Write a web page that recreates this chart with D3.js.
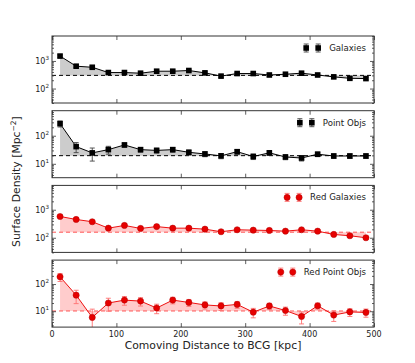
<!DOCTYPE html>
<html>
<head>
<meta charset="utf-8">
<script src="https://cdn.jsdelivr.net/npm/d3@7"></script>
<style>
  body { margin: 0; background: #fff; }
  text { font-family: "DejaVu Sans", sans-serif; fill: #222; }
</style>
</head>
<body>
<div id="chart-area"></div>
<script>
// radial bins, kpc
const binCenters = [12.5, 37.5, 62.5, 87.5, 112.5, 137.5, 162.5, 187.5, 212.5, 237.5,
  262.5, 287.5, 312.5, 337.5, 362.5, 387.5, 412.5, 437.5, 462.5, 487.5]

const galaxies = [1500, 645, 590, 380, 380, 360, 425, 425, 450, 370,
  282, 350, 350, 310, 330, 360, 310, 265, 235, 230]
const galaxiesErr = [150, 60, 55, 40, 40, 38, 40, 40, 42, 36,
  30, 34, 34, 31, 32, 34, 30, 27, 25, 25]
const galaxiesBg = 300

const pointObjs = [270, 41, 24.5, 32, 47, 32, 30, 32, 25.7, 22.4,
  19.2, 27, 18.2, 24.6, 17.5, 16.1, 22, 19, 19, 19]
const pointObjsErr = [65, 16, 12, 10, 8, 6, 6, 6, 5, 4.5,
  4, 5, 4, 4.5, 3.5, 3.5, 4, 3.5, 3.5, 3.5]
const pointObjsBg = 19.5

const redGalaxies = [575, 450, 373, 220, 275, 215, 250, 220, 220, 203,
  164, 193, 187, 182, 172, 193, 172, 131, 118, 100]
const redGalaxiesErr = [60, 45, 38, 25, 28, 24, 26, 24, 24, 22,
  19, 21, 21, 20, 19, 21, 19, 16, 15, 13]
const redGalaxiesBg = 158

const redPointObjs = [184, 39, 5.9, 20, 25.6, 23.5, 13.1, 25.6, 21, 17,
  15.6, 17.8, 9.2, 15.6, 10.6, 6.4, 15.9, 7.2, 9.4, 9.0]
const redPointObjsErr = [60, 20, 6, 10, 9, 8, 5, 7, 6, 5,
  5, 5, 3.5, 4, 3.5, 3, 4, 3, 3, 3]
const redPointObjsBg = 10.2

const xTicks = [0, 100, 200, 300, 400, 500]

const panels = [
  {label: "Galaxies", values: galaxies, err: galaxiesErr, bg: galaxiesBg, domain: [30, 8000], red: false},
  {label: "Point Objs", values: pointObjs, err: pointObjsErr, bg: pointObjsBg, domain: [3.2, 780], red: false},
  {label: "Red Galaxies", values: redGalaxies, err: redGalaxiesErr, bg: redGalaxiesBg, domain: [30, 7400], red: true},
  {label: "Red Point Objs", values: redPointObjs, err: redPointObjsErr, bg: redPointObjsBg, domain: [2.6, 760], red: true}
]

const LEFT = 52, RIGHT = 374, TOP = 36, PANEL_H = 67, GAP = 7.7
const FRAME = "#333"

const svg = d3.select("#chart-area").append("svg")
  .attr("width", 415)
  .attr("height", 363)

const x = d3.scaleLinear().domain([0, 500]).range([LEFT, RIGHT])

function drawMarker(sel, cx, cy, red) {
  if (red) {
    sel.append("circle").attr("cx", cx).attr("cy", cy).attr("r", 3.1)
      .attr("fill", "#e60000").attr("stroke", "#b30000").attr("stroke-width", 0.5)
  } else {
    sel.append("rect").attr("x", cx - 2.8).attr("y", cy - 2.8)
      .attr("width", 5.6).attr("height", 5.6).attr("fill", "#000")
  }
}

function drawErr(sel, cx, yTop, yBot, col) {
  sel.append("line").attr("x1", cx).attr("x2", cx).attr("y1", yTop).attr("y2", yBot)
    .attr("stroke", col).attr("stroke-width", 0.9)
  sel.append("line").attr("x1", cx - 2.5).attr("x2", cx + 2.5).attr("y1", yTop).attr("y2", yTop)
    .attr("stroke", col).attr("stroke-width", 0.9)
  sel.append("line").attr("x1", cx - 2.5).attr("x2", cx + 2.5).attr("y1", yBot).attr("y2", yBot)
    .attr("stroke", col).attr("stroke-width", 0.9)
}

panels.forEach((p, i) => {
  const top = TOP + i * (PANEL_H + GAP)
  const bottom = top + PANEL_H
  const y = d3.scaleLog().domain(p.domain).range([bottom, top])
  const lineCol = p.red ? "#ee1111" : "#000"
  const errCol = p.red ? "#ff7070" : "#444"
  const fillCol = p.red ? "#ffcccc" : "#cccccc"
  const dashCol = p.red ? "#ff5555" : "#000"

  svg.append("clipPath").attr("id", "clip" + i)
    .append("rect").attr("x", LEFT).attr("y", top).attr("width", RIGHT - LEFT).attr("height", PANEL_H)

  const plot = svg.append("g").attr("clip-path", `url(#clip${i})`)

  // shaded excess over background
  plot.append("path")
    .datum(p.values)
    .attr("d", d3.area()
      .x((d, j) => x(binCenters[j]))
      .y0(y(p.bg))
      .y1(d => y(d)))
    .attr("fill", fillCol)

  plot.append("line")
    .attr("x1", LEFT).attr("x2", RIGHT)
    .attr("y1", y(p.bg)).attr("y2", y(p.bg))
    .attr("stroke", dashCol).attr("stroke-width", 1)
    .attr("stroke-dasharray", "4,3")

  plot.append("path")
    .datum(p.values)
    .attr("d", d3.line().x((d, j) => x(binCenters[j])).y(d => y(d)))
    .attr("fill", "none").attr("stroke", lineCol).attr("stroke-width", 1)

  p.values.forEach((v, j) => {
    const lo = Math.max(v - p.err[j], p.domain[0] * 0.5)
    drawErr(plot, x(binCenters[j]), y(v + p.err[j]), y(lo), errCol)
  })
  p.values.forEach((v, j) => drawMarker(plot, x(binCenters[j]), y(v), p.red))

  // ticks, all inward
  const lo = Math.floor(Math.log10(p.domain[0])), hi = Math.ceil(Math.log10(p.domain[1]))
  const major = [], minor = []
  for (let k = lo; k <= hi; k++) {
    if (Math.pow(10, k) >= p.domain[0] && Math.pow(10, k) <= p.domain[1]) major.push(Math.pow(10, k))
    for (let m = 2; m < 10; m++) {
      const v = m * Math.pow(10, k)
      if (v >= p.domain[0] && v <= p.domain[1]) minor.push(v)
    }
  }
  const axG = svg.append("g")
  const addAxis = (call) => {
    const a = axG.append("g").call(call)
    a.select(".domain").remove()
    a.selectAll("line").attr("stroke", FRAME).attr("stroke-width", 0.8)
  }
  addAxis(g => g.attr("transform", `translate(${LEFT},0)`).call(d3.axisLeft(y).tickValues(major).tickSize(-4).tickFormat("")))
  addAxis(g => g.attr("transform", `translate(${LEFT},0)`).call(d3.axisLeft(y).tickValues(minor).tickSize(-2).tickFormat("")))
  addAxis(g => g.attr("transform", `translate(${RIGHT},0)`).call(d3.axisRight(y).tickValues(major).tickSize(-4).tickFormat("")))
  addAxis(g => g.attr("transform", `translate(${RIGHT},0)`).call(d3.axisRight(y).tickValues(minor).tickSize(-2).tickFormat("")))
  addAxis(g => g.attr("transform", `translate(0,${bottom})`).call(d3.axisBottom(x).tickValues(xTicks).tickSize(-4).tickFormat("")))
  addAxis(g => g.attr("transform", `translate(0,${top})`).call(d3.axisTop(x).tickValues(xTicks).tickSize(-4).tickFormat("")))

  svg.append("rect")
    .attr("x", LEFT).attr("y", top).attr("width", RIGHT - LEFT).attr("height", PANEL_H)
    .attr("fill", "none").attr("stroke", FRAME).attr("stroke-width", 1)

  // y tick labels 10^k
  major.forEach(v => {
    const t = svg.append("text")
      .attr("x", 49).attr("y", y(v) + 3)
      .attr("text-anchor", "end")
      .attr("font-size", "8px")
    t.append("tspan").text("10")
    t.append("tspan").attr("dy", -4).attr("font-size", "5.6px").text(Math.round(Math.log10(v)))
  })

  // legend
  const lt = svg.append("text")
    .attr("x", 366).attr("y", top + 15)
    .attr("text-anchor", "end")
    .attr("font-size", "8.6px")
    .text(p.label)
  const tw = lt.node().getComputedTextLength()
  const ly = top + 12
  const lg = svg.append("g")
  ;[366 - tw - 11, 366 - tw - 23].forEach(cx => {
    drawErr(lg, cx, ly - 4, ly + 4, errCol)
    drawMarker(lg, cx, ly, p.red)
  })

  if (i === panels.length - 1) {
    xTicks.forEach(v => {
      svg.append("text")
        .attr("x", x(v)).attr("y", bottom + 9.5)
        .attr("text-anchor", "middle")
        .attr("font-size", "8px")
        .text(v)
    })
  }
})

svg.append("text")
  .attr("x", (LEFT + RIGHT) / 2).attr("y", 349)
  .attr("text-anchor", "middle")
  .attr("font-size", "10.8px")
  .text("Comoving Distance to BCG [kpc]")

const yl = svg.append("text")
  .attr("transform", `translate(20, ${(TOP + TOP + 4 * PANEL_H + 3 * GAP) / 2}) rotate(-90)`)
  .attr("text-anchor", "middle")
  .attr("font-size", "10.8px")
yl.append("tspan").text("Surface Density [Mpc")
yl.append("tspan").attr("dy", -4).attr("font-size", "7.5px").text("−2")
yl.append("tspan").attr("dy", 4).text("]")
</script>
</body>
</html>
